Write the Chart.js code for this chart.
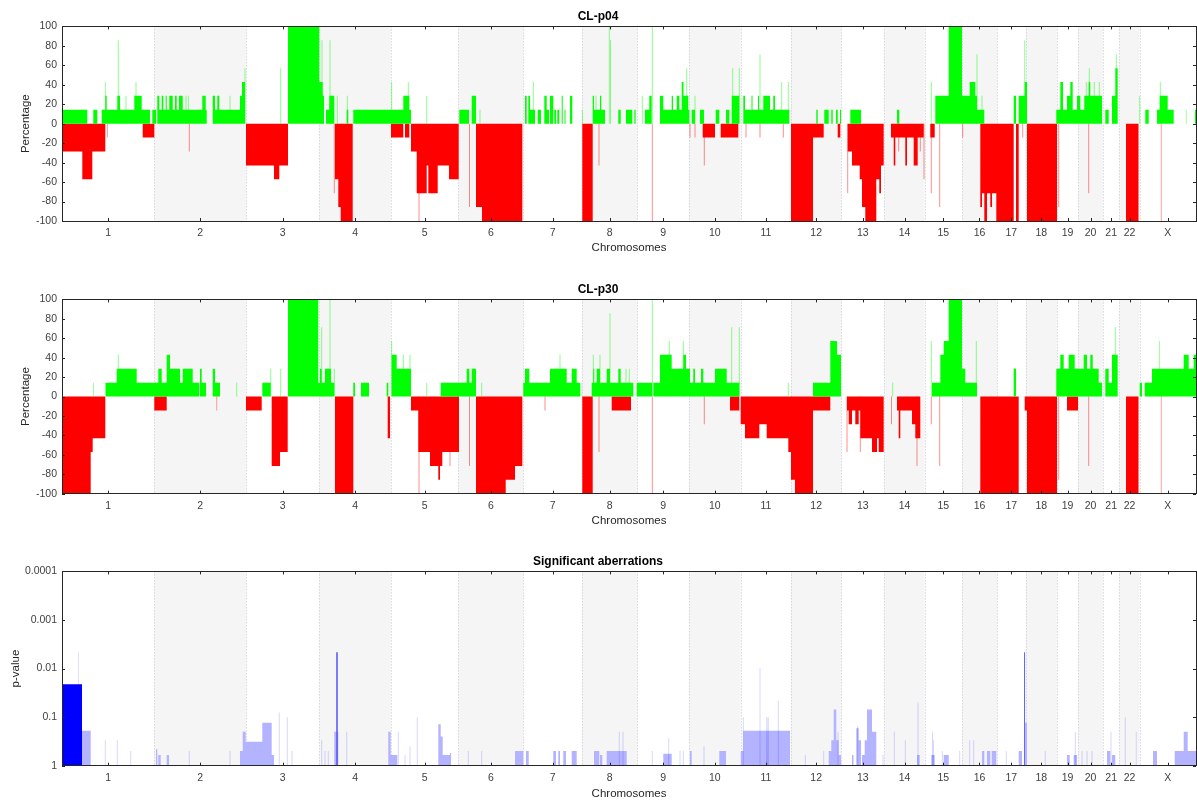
<!DOCTYPE html>
<html><head><meta charset="utf-8">
<script src="https://cdn.jsdelivr.net/npm/chart.js@4.4.1/dist/chart.umd.min.js"></script>
<style>body{margin:0;background:#fff}canvas{position:absolute;left:0}</style>
</head><body>
<div style="position:relative;width:1197px;height:803px">
<canvas id="c1" width="1197" height="262" style="top:0px"></canvas>
<canvas id="c2" width="1197" height="262" style="top:273px"></canvas>
<canvas id="c3" width="1197" height="258" style="top:545px"></canvas>
</div>
<script>
// ---- chromosome layout (genome bins) ----
const chromNames = ['1','2','3','4','5','6','7','8','9','10','11','12','13','14','15','16','17','18','19','20','21','22','X'];
const chromLengths = [92.3,91.7,73.3,71.7,67.3,65,58.7,55.3,51.7,51.7,50.3,50.3,43,40.4,37.3,35,28.7,31.3,21,25,16.3,20.4,56.3];
const pctTicks = [-100,-80,-60,-40,-20,0,20,40,60,80,100];
const pTicks = [0.0001,0.001,0.01,0.1,1];

// ---- CL-p04 : [start, end, percentage] ----
const p04Gain = [
[0,25.3,14.3],[31.3,35.3,14.3],[39.7,43.3,14.3],[43.3,44.7,28.6],[44.7,55.3,14.3],[55.3,58,28.6],[58,72.3,14.3],[72.3,79.7,28.6],[79.7,88,14.3],
[90.3,94,14.3],[95.3,97.3,28.6],[97.3,99.7,14.3],[99.7,101.3,28.6],[101.3,103.7,14.3],[103.7,104.7,28.6],[104.7,107.3,14.3],[107.3,110.7,28.6],[110.7,113,14.3],[113,114.7,28.6],[114.7,117,14.3],[117,120.7,28.6],[120.7,140.3,14.3],[140.3,143.7,28.6],[143.7,144.7,14.3],
[150.7,153,28.6],[153,155.3,14.3],[155.3,157.3,28.6],[157.3,178,14.3],[178,180,28.6],[180,183,42.9],
[226,257.3,100],[257.3,260.7,42.9],[260.7,262,28.6],[264,267.3,14.3],[267.3,272.3,28.6],[284.7,286.3,14.3],
[291.3,341.3,14.3],[341.3,347.3,28.6],[347.3,349,14.3],
[397.3,407,14.3],[409.7,414,28.6],
[463,464.7,28.6],[466.3,468,28.6],[468,473,14.3],[475.7,479,14.3],[482.3,484.7,28.6],[484.7,487,14.3],[488,491.3,28.6],[492.3,494,14.3],[495.3,497.3,14.3],[499.7,500.7,28.6],[502.5,503.5,14.3],[508,510.3,28.6],
[530.7,532,28.6],[532,538,14.3],[538,539.3,28.6],[539.3,543,14.3],[556.3,558.7,14.3],[564,570.3,14.3],[572.5,573.5,14.3],
[583,587.3,14.3],[587.3,589.7,28.6],[598,601.3,28.6],[601.3,609.7,14.3],[609.7,611,28.6],[611,614.7,14.3],[614.7,617.3,28.6],[617.3,619.7,14.3],[619.7,621.5,42.9],[621.5,626.3,28.6],[626.3,627.3,14.3],
[629.7,633,14.3],[638,642,14.3],[653.7,657.3,14.3],[664,667.3,14.3],[669.7,677.3,28.6],
[681.3,683,28.6],[683,689.5,14.3],[689.5,690.5,28.6],[690.5,696,14.3],[696,697,28.6],[697,701.3,14.3],[701.3,708,28.6],[708,711.3,14.3],[711.3,713,28.6],[713,727.3,14.3],
[754.3,755.7,14.3],[762.3,766.7,14.3],[769.3,770.7,14.3],[774,775.7,14.3],[778,779,14.3],[788.3,799,14.3],[835,837.3,14.3],
[873.3,886.7,28.6],[886.7,900,100],[900,907.7,28.6],[907.7,913.3,42.9],[913.3,915,28.6],[915,922.3,14.3],
[951.7,954,28.6],[956.7,962.7,28.6],[962.7,965,42.9],
[994.3,998.3,14.3],[998.3,1001,42.9],[1001,1005,14.3],[1005,1008.3,28.6],[1008.3,1010.7,42.9],[1010.7,1015,14.3],[1015,1018.3,28.6],[1018.3,1022.3,14.3],[1022.3,1026.7,28.6],[1026.7,1028.3,42.9],[1028.3,1040,28.6],
[1043.3,1046.7,14.3],[1050,1053.3,28.6],[1053.3,1055.7,57.1],
[1083.3,1086.7,14.3],[1095,1097.7,14.3],[1097.7,1105.7,28.6],[1105.7,1111.7,14.3],[1133,1134,14.3]
];
const p04GainSpikes = [[43.3,42.9],[56.3,85.7],[64,28.6],[74,42.9],[124,28.6],[126.3,28.6],[168,28.6],[183,57.1],[218.7,57.1],[260,85.7],[268,85.7],[275.3,28.6],[285.3,28.6],[329.7,42.9],[346.3,42.9],[364.7,28.6],[418,14.3],[471.3,42.9],[520.3,14.3],[534,28.6],[547.3,100],[548.5,85.7],[573,14.3],[580.3,28.6],[590.3,100],[624.7,57.1],[633,28.6],[670.7,57.1],[677.3,57.1],[698,71.4],[719.7,42.9],[726.3,42.9],[869.3,42.9],[915,71.4],[920,28.6],[962.7,85.7],[1024.3,42.9],[1027.3,57.1],[1032.3,42.9],[1037.3,42.9],[1054.3,71.4],[1077.7,28.6],[1098.3,42.9],[1124.3,14.3]];
const p04Loss = [
[0,20.3,-28.6],[20.3,30.3,-57.1],[30.3,43.3,-28.6],[80.7,92.3,-14.3],
[184,212,-42.9],[212,217.3,-57.1],[217.3,226,-42.9],
[273,276.3,-57.1],[276.3,278.7,-85.7],[278.7,290.7,-100],
[329,341.3,-14.3],[343,347.3,-14.3],
[349,354.7,-28.6],[354.7,364.7,-71.4],[364.7,366.3,-42.9],[366.3,375.7,-71.4],[375.7,387,-42.9],[387,396.7,-57.1],
[414,420,-85.7],[420,460.3,-100],
[520.3,530.7,-100],
[640.7,653,-14.3],[658.7,676.3,-14.3],
[729,751,-100],[751,761.7,-14.3],[775.7,778.3,-14.3],
[785.7,790,-28.6],[790,797.7,-42.9],[797.7,800,-57.1],[800,803.3,-85.7],[803.3,814.3,-100],[814.3,817.3,-57.1],[817.3,819,-71.4],[819,821.7,-42.9],
[829,831.7,-14.3],[831.7,833.3,-42.9],[833.3,843.3,-14.3],[843.3,845,-42.9],[845,851.7,-14.3],[851.7,855.7,-42.9],[855.7,861.7,-14.3],
[868.3,872.7,-14.3],
[918.3,920,-85.7],[920,922.3,-71.4],[922.3,925,-100],[925,928.3,-71.4],[928.3,930,-85.7],[930,934.3,-71.4],[934.3,951.7,-100],[954,956.7,-100],
[965,995,-100],
[1064,1076.7,-100]
];
const p04LossSpikes = [[45.3,-14.3],[127.3,-28.6],[272.3,-71.4],[357,-100],[407.5,-85.7],[537,-42.9],[590.3,-100],[628,-14.3],[633,-14.3],[642.3,-42.9],[684,-14.3],[698,-14.3],[721.3,-14.3],[785.7,-71.4],[836.7,-28.6],[858.3,-28.6],[862,-57.1],[869.3,-71.4],[877.7,-85.7],[900.7,-14.3],[960.7,-14.3],[996.7,-85.7],[1026.7,-71.4],[1099.3,-100]];

// ---- CL-p30 ----
const p30Gain = [
[43.3,54.7,14.3],[54.7,74.7,28.6],[74.7,92.3,14.3],
[92.3,96.3,14.3],[96.3,99.7,28.6],[99.7,104.7,14.3],[104.7,108,42.9],[108,118,28.6],[118,120.7,14.3],[120.7,130.7,28.6],[130.7,137.3,14.3],[138,139.7,28.6],[139.7,144,14.3],
[150.7,153,28.6],[153,158,14.3],
[200.3,208.7,14.3],
[226,256.3,100],[256.3,258,14.3],[258,259.7,28.6],[259.7,263,14.3],[263,269,28.6],[269,272.3,14.3],
[291.3,293,14.3],[299,307,14.3],[324.7,326.3,14.3],[329.7,334.7,42.9],[334.7,349,28.6],
[378.7,404.7,14.3],[404.7,407.3,28.6],[407.3,409.7,14.3],[409.7,414,28.6],
[461.3,463,14.3],[463,467.3,28.6],[467.3,488,14.3],[488,504.7,28.6],[504.7,509.7,14.3],[509.7,514.7,28.6],[514.7,518,14.3],
[529.7,531.3,14.3],[531.3,532.3,28.6],[532.3,534.7,14.3],[534.7,538,28.6],[538,544.7,14.3],[544.7,548,28.6],[548,556.3,14.3],[556.3,558.7,28.6],[558.7,571.3,14.3],
[574.7,590,14.3],[591.3,598,14.3],[598,609.7,42.9],[609.7,621.3,28.6],[621.3,624,42.9],[624,628,28.6],[628,631.3,14.3],[631.3,633,28.6],[633,639,14.3],[639,641.3,28.6],[641.3,653,14.3],[653,664.7,28.6],[664.7,677.3,14.3],
[751,768.3,14.3],[768.3,775,57.1],[775,779,42.9],
[870,878.3,14.3],[878.3,881.7,42.9],[881.7,886.7,57.1],[886.7,900,100],[900,903.3,28.6],[903.3,915,14.3],
[951.7,954,28.6],
[994.3,998.3,28.6],[998.3,1001.7,42.9],[1001.7,1006.7,28.6],[1006.7,1012.7,42.9],[1012.7,1021.7,28.6],[1021.7,1025,42.9],[1025,1028.3,28.6],[1028.3,1030.7,42.9],[1030.7,1036.7,28.6],[1036.7,1040,14.3],
[1043.3,1046.7,28.6],[1046.7,1050,14.3],[1050,1055.7,42.9],
[1077.7,1080,14.3],[1082.7,1090,14.3],[1090,1121.7,28.6],[1121.7,1126.7,42.9],[1126.7,1131.7,28.6],[1131.7,1134,42.9]
];
const p30GainSpikes = [[31.3,14.3],[56.3,42.9],[174.7,14.3],[208.7,28.6],[218.7,28.6],[259.7,71.4],[268,100],[272.3,28.6],[329.7,57.1],[341.3,42.9],[348,42.9],[364.7,14.3],[419.7,14.3],[498,42.9],[519,14.3],[531.3,42.9],[538,42.9],[548,85.7],[564,28.6],[567.3,28.6],[590.3,100],[607.3,57.1],[621.3,57.1],[669.7,71.4],[677.3,71.4],[726.3,14.3],[830.7,14.3],[869.3,57.1],[914.3,57.1],[1053.3,71.4],[1097.7,57.1]];
const p30Loss = [
[0,28.7,-100],[28.7,30.7,-57.1],[30.7,43.3,-42.9],
[92.3,104.7,-14.3],
[184,199.7,-14.3],[209.7,218,-71.4],[218,225.7,-57.1],
[273,291.3,-100],[325.7,328,-42.9],
[349,356.3,-14.3],[356.3,368,-57.1],[368,376.3,-71.4],[376.3,378,-85.7],[378,380.3,-71.4],[380.3,397,-57.1],
[414,443.7,-100],[443.7,453,-85.7],[453,460.3,-71.4],
[520.3,530.7,-100],
[549.7,569,-14.3],
[668,677.3,-14.3],
[678.7,683,-28.6],[683,697.3,-42.9],[697.3,704.7,-28.6],[704.7,726.3,-42.9],[726.3,729,-57.1],[729,733,-85.7],[733,751,-100],
[751,768.3,-14.3],
[785,786.7,-14.3],[786.7,790,-28.6],[790,793.3,-14.3],[793.3,796.7,-28.6],[796.7,798.3,-14.3],[798.3,810,-42.9],[810,815,-57.1],[815,816.7,-42.9],[816.7,821.7,-57.1],
[835,836.7,-14.3],[836.7,838.3,-42.9],[838.3,850,-14.3],[850,853.3,-28.6],[853.3,858.3,-42.9],
[918.3,956.7,-100],
[962.7,965,-14.3],[965,995,-100],
[1005,1016,-14.3],
[1064,1076.7,-100]
];
const p30LossSpikes = [[154.7,-14.3],[218,-42.9],[357,-100],[388,-71.4],[407.5,-71.4],[483,-14.3],[537,-57.1],[590.3,-100],[642.3,-28.6],[785,-57.1],[798.3,-57.1],[829.5,-28.6],[855,-71.4],[869.3,-28.6],[877.7,-71.4],[996.7,-85.7],[1026.7,-71.4],[1099.3,-100]];

// ---- Significant aberrations : [start, end, p-value] ----
const pSignificant = [[0,20,0.021],[274.5,275.5,0.0046],[720,720.8,0.046],[962.4,963.2,0.0046]];
const pOther = [
[20,28.7,0.19],[94,95.3,0.46],[96.3,98.7,0.6],[104.7,107,0.6],
[178,180.7,0.5],[180.7,183.7,0.2],[183.7,200.3,0.32],[200.3,209.7,0.13],[209.7,212,0.6],
[272.3,274.5,0.2],[275.5,276.3,0.2],
[326.3,328.7,0.2],[328.7,335.3,0.6],
[376.3,378.7,0.14],[378.7,380.7,0.25],[380.7,388,0.6],[388,389,0.55],
[453,461.3,0.5],[464,466.7,0.5],
[491.3,494,0.5],[496.3,498,0.5],[501.3,504,0.5],[509.7,514.7,0.5],
[532,537.3,0.5],[538,540.3,0.6],[544.7,564.7,0.5],
[601.3,609.7,0.57],
[628,629.7,0.5],[657.3,664,0.5],
[678.7,681.3,0.5],[681.3,728,0.19],
[766.7,769.3,0.5],[769.3,771.7,0.3],[771.7,774.3,0.07],[774.3,776.7,0.3],[776.7,779,0.6],
[790,791.5,0.6],[794.3,796.7,0.17],[796.7,799,0.3],[800,802.7,0.6],[802.7,805,0.3],[805,810,0.07],[810,814.3,0.2],
[855,857.7,0.6],[869.3,872.7,0.6],[881.7,886.7,0.6],
[920,922.3,0.5],[925,928.3,0.5],[929.7,934.3,0.5],
[956.7,960,0.5],[963.2,965,0.13],
[1005,1007.7,0.6],[1011.7,1015,0.6],
[1045,1048.3,0.5],[1050,1053.3,0.6],
[1091,1095,0.5],[1112.7,1121.7,0.5],[1121.7,1125.7,0.2],[1125.7,1134,0.5]
];
const pSpikes = [[16.3,0.0046],[43.3,0.3],[55.3,0.3],[68.7,0.5],[127.3,0.5],[168,0.5],[217.3,0.08],[225.3,0.1],[230,0.5],[259.7,0.3],[263,0.5],[266.3,0.5],[284.7,0.2],[336.3,0.2],[343,0.6],[348,0.4],[355.3,0.1],[406.3,0.5],[419.7,0.5],[557.3,0.2],[561,0.2],[590.3,0.5],[606.7,0.27],[618,0.5],[621.3,0.5],[642,0.4],[681.3,0.1],[698,0.01],[704.7,0.1],[706.3,0.1],[716.3,0.046],[743.3,0.6],[761.7,0.5],[776,0.2],[795.7,0.15],[821,0.6],[832.3,0.2],[843.3,0.3],[856,0.05],[870.5,0.2],[871.5,0.3],[880.3,0.5],[897.7,0.5],[907.7,0.3],[911.7,0.3],[944.3,0.5],[983.3,0.5],[1013.3,0.2],[1020,0.5],[1025,0.5],[1030,0.5],[1049,0.2],[1063.3,0.1],[1074.3,0.2]];

// ---- helpers ----
const chromStarts = [];
chromLengths.reduce((acc, l) => { chromStarts.push(acc); return acc + l; }, 0);
const chromCenters = chromStarts.map((s, i) => s + chromLengths[i] / 2);
const genomeEnd = chromStarts[chromStarts.length - 1] + chromLengths[chromLengths.length - 1];

function poly(segs, base) {
  const pts = [];
  segs.slice().sort((a, b) => a[0] - b[0]).forEach(([s, e, v]) => {
    pts.push({x: s, y: base}, {x: s, y: v}, {x: e, y: v}, {x: e, y: base});
  });
  return pts;
}
function spikes(list, base) { return poly(list.map(([p, v]) => [p - 0.5, p + 0.5, v]), base); }
function ds(data, color, base) {
  return {data, backgroundColor: color, borderColor: 'rgba(0,0,0,0)', borderWidth: 0, pointRadius: 0,
          tension: 0, fill: base === 0 ? 'origin' : {value: base}};
}

const FONT = 'Liberation Sans, Arial, Helvetica, sans-serif';
const frame = {
  id: 'frame',
  beforeDatasetsDraw(chart) {
    const {ctx, chartArea: a, scales: {x}} = chart;
    ctx.save();
    ctx.fillStyle = '#f5f5f5';
    chromStarts.forEach((s, i) => {
      if (i % 2 === 1) {
        const x0 = x.getPixelForValue(s), x1 = x.getPixelForValue(s + chromLengths[i]);
        ctx.fillRect(x0, a.top, x1 - x0, a.bottom - a.top);
      }
    });
    ctx.strokeStyle = '#c2c4d2'; ctx.lineWidth = 1; ctx.setLineDash([1, 2]);
    chromStarts.forEach((s, i) => {
      if (i === 0) return;
      const px = Math.round(x.getPixelForValue(s)) + 0.5;
      ctx.beginPath(); ctx.moveTo(px, a.top); ctx.lineTo(px, a.bottom); ctx.stroke();
    });
    ctx.restore();
  },
  afterDatasetsDraw(chart) {
    const {ctx, chartArea: a, scales: {x, y}} = chart;
    ctx.save();
    ctx.strokeStyle = '#262626'; ctx.lineWidth = 1;
    ctx.beginPath();
    chromCenters.forEach(c => {
      const px = Math.round(x.getPixelForValue(c)) + 0.5;
      ctx.moveTo(px, a.top); ctx.lineTo(px, a.top + 3);
      ctx.moveTo(px, a.bottom); ctx.lineTo(px, a.bottom - 3);
    });
    y.ticks.forEach(t => {
      const py = Math.round(y.getPixelForValue(t.value)) + 0.5;
      ctx.moveTo(a.left, py); ctx.lineTo(a.left + 3, py);
      ctx.moveTo(a.right, py); ctx.lineTo(a.right - 3, py);
    });
    ctx.stroke();
    ctx.strokeRect(Math.round(a.left) + 0.5, Math.round(a.top) + 0.5, Math.round(a.right - a.left), Math.round(a.bottom - a.top));
    ctx.restore();
  }
};

function makePanel(id, title, datasets, yScale, xHeight, xTitlePad, yTitlePad, yTitle) {
  new Chart(document.getElementById(id), {
    type: 'line',
    data: {datasets},
    plugins: [frame],
    options: {
      responsive: false, animation: false, events: [],
      layout: {padding: {left: 0, right: 1, top: 0, bottom: 0}},
      plugins: {
        legend: {display: false}, tooltip: {enabled: false},
        title: {display: true, text: title, color: '#000', font: {family: FONT, size: 12, weight: 'bold'}, padding: {top: 9, bottom: 3}}
      },
      scales: {
        x: {
          type: 'linear', min: 0, max: genomeEnd,
          grid: {display: false, drawTicks: false}, border: {display: false},
          afterBuildTicks: s => { s.ticks = chromCenters.map(v => ({value: v})); },
          afterFit: s => { s.height = xHeight; },
          ticks: {autoSkip: false, maxRotation: 0, padding: 6, color: '#404040', font: {family: FONT, size: 10.5},
                  callback: (v, i) => chromNames[i]},
          title: {display: true, text: 'Chromosomes', color: '#262626', font: {family: FONT, size: 11.5}, padding: {top: 0, bottom: xTitlePad}}
        },
        y: Object.assign({
          grid: {display: false, drawTicks: false}, border: {display: false},
          afterFit: s => { s.width = 62; },
          title: {display: true, text: yTitle, color: '#262626', font: {family: FONT, size: 11.5}, padding: {top: yTitlePad, bottom: 0}}
        }, yScale)
      }
    }
  });
}

const pctScale = {type: 'linear', min: -100, max: 100,
  afterBuildTicks: s => { s.ticks = pctTicks.map(v => ({value: v})); },
  ticks: {padding: 5, color: '#404040', font: {family: FONT, size: 10.5}}};

makePanel('c1', 'CL-p04', [
  ds(spikes(p04GainSpikes, 0), 'rgba(0,255,0,0.45)', 0),
  ds(spikes(p04LossSpikes, 0), 'rgba(255,0,0,0.45)', 0),
  ds(poly(p04Gain, 0), '#00ff00', 0),
  ds(poly(p04Loss, 0), '#ff0000', 0)
], pctScale, 41, 7, 18.6, 'Percentage');

makePanel('c2', 'CL-p30', [
  ds(spikes(p30GainSpikes, 0), 'rgba(0,255,0,0.45)', 0),
  ds(spikes(p30LossSpikes, 0), 'rgba(255,0,0,0.45)', 0),
  ds(poly(p30Gain, 0), '#00ff00', 0),
  ds(poly(p30Loss, 0), '#ff0000', 0)
], pctScale, 41.3, 7, 18.6, 'Percentage');

makePanel('c3', 'Significant aberrations', [
  ds(poly(pSignificant, 1), '#0000ff', 1),
  ds(spikes(pSpikes, 1), 'rgba(0,0,255,0.16)', 1),
  ds(poly(pOther, 1), '#b3b3ff', 1)
], {type: 'logarithmic', min: 0.0001, max: 1, reverse: true,
    afterBuildTicks: s => { s.ticks = pTicks.map(v => ({value: v})); },
    ticks: {padding: 5, color: '#404040', font: {family: FONT, size: 10.5}, callback: v => String(v)}},
  37.3, 2, 8.6, 'p-value');
</script>
</body></html>
